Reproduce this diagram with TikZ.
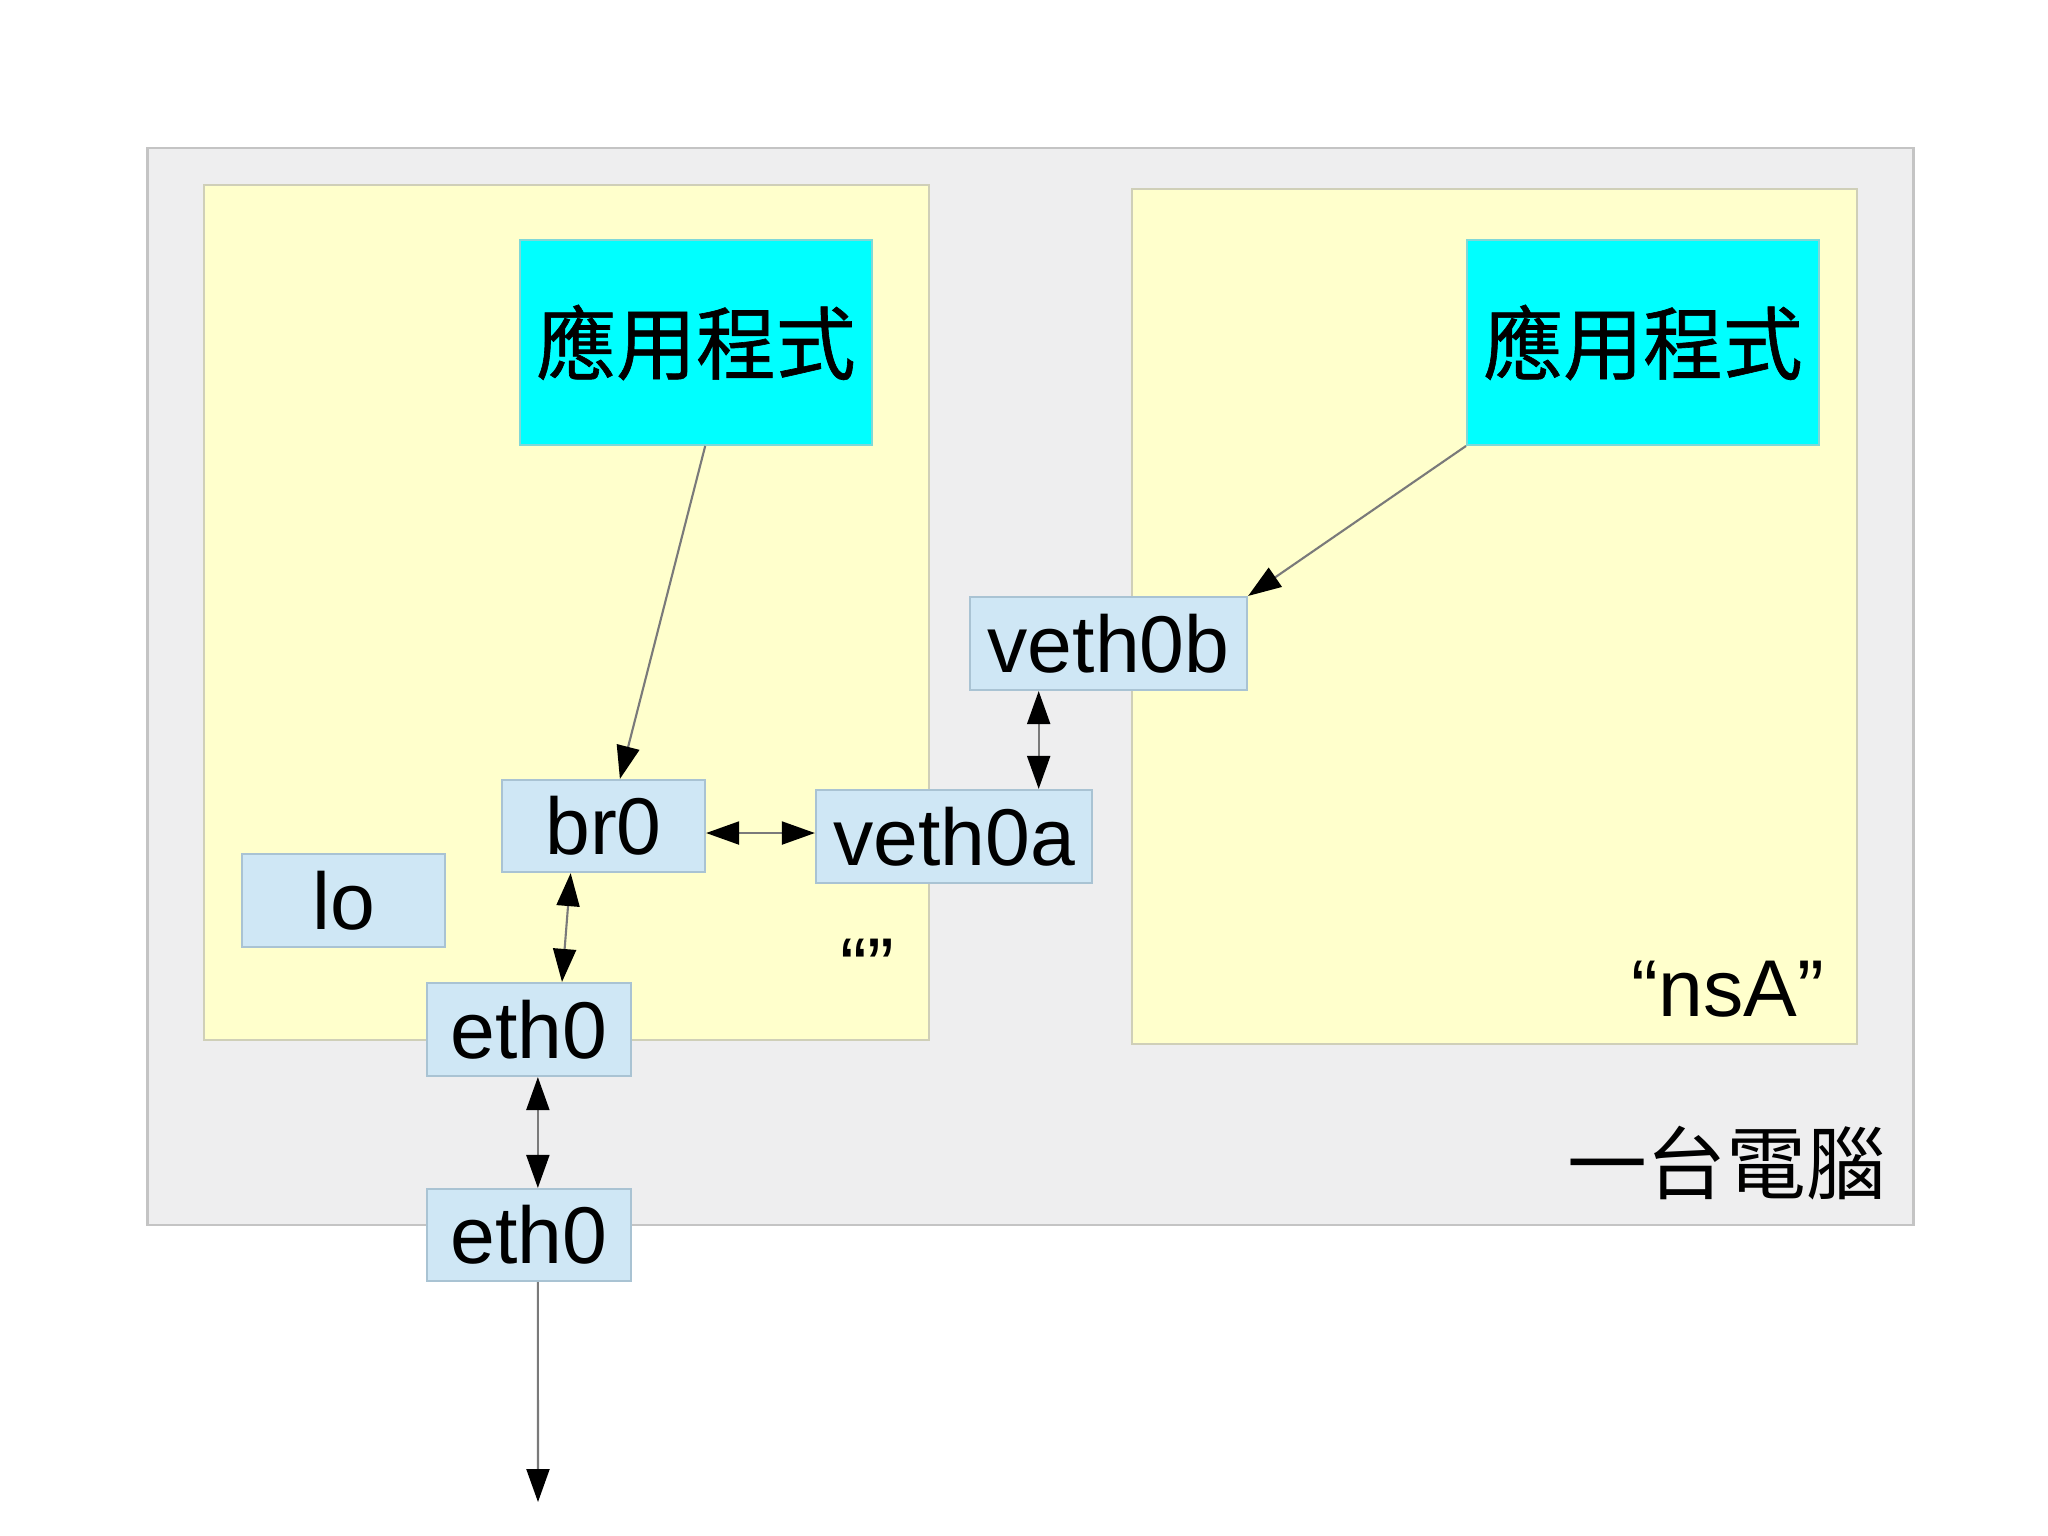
\documentclass[tikz,border=0pt]{standalone}
\usepackage{fontspec}
\setmainfont{Liberation Sans}
\newfontfamily\cjk{Noto Sans CJK TC}
\newfontfamily\cjkm[UprightFeatures={FakeBold=0.8}]{Noto Sans CJK TC}
\usetikzlibrary{arrows.meta,calc}
\definecolor{outerbg}{HTML}{EEEEEF}
\definecolor{outerln}{HTML}{C4C4C4}
\definecolor{yel}{HTML}{FFFFCC}
\definecolor{yelln}{HTML}{CFCFB8}
\definecolor{cyanbg}{HTML}{00FFFF}
\definecolor{cyanln}{HTML}{7FD8D8}
\definecolor{ifbg}{HTML}{CFE7F5}
\definecolor{ifln}{HTML}{A9C3D3}
\definecolor{conn}{HTML}{7A7A7A}
\tikzset{
  tip/.tip={Triangle[length=0.33cm, width=0.23cm, fill=black, color=black]},
  region/.style={draw=outerln, fill=outerbg, line width=0.6pt, inner sep=0pt},
  nsbox/.style={draw=yelln, fill=yel, line width=0.6pt, inner sep=0pt},
  appbox/.style={draw=cyanln, fill=cyanbg, line width=0.5pt, inner sep=0pt,
    font=\cjkm\fontsize{22.7pt}{27pt}\selectfont},
  ifbox/.style={draw=ifln, fill=ifbg, line width=0.6pt, inner sep=0pt,
    font=\fontsize{22.9pt}{27pt}\selectfont},
  lbl/.style={inner sep=0pt, font=\fontsize{22.9pt}{27pt}\selectfont},
  conn/.style={draw=conn, line width=0.6pt, arrows={-tip}},
  bconn/.style={draw=conn, line width=0.6pt, arrows={tip-tip}},
}
\begin{document}
\begin{tikzpicture}[x=0.01cm, y=-0.01cm]
\useasboundingbox[fill=white] (0,0) rectangle (2048,1535);

% containers
\node[region, minimum width=17.65cm, minimum height=10.77cm] (pc) at (1030.5,686.5) {};
\node[nsbox, minimum width=7.25cm, minimum height=8.55cm] (nsL) at (566.5,612.5) {};
\node[nsbox, minimum width=7.25cm, minimum height=8.55cm] (nsR) at (1494.5,616.5) {};

% applications
\node[appbox, minimum width=3.52cm, minimum height=2.05cm] (app1) at (696,342.5) {應用程式};
\node[appbox, minimum width=3.52cm, minimum height=2.05cm] (app2) at (1643,342.5) {應用程式};

% interfaces
\node[ifbox, minimum width=2.77cm, minimum height=0.93cm] (veth0b) at (1108.5,643.5) {veth0b};
\node[ifbox, minimum width=2.03cm, minimum height=0.92cm] (br0) at (603.5,826) {br0};
\node[ifbox, minimum width=2.76cm, minimum height=0.93cm] (veth0a) at (954,836.5) {veth0a};
\node[ifbox, minimum width=2.03cm, minimum height=0.93cm] (lo) at (343.5,900.5) {lo};
\node[ifbox, minimum width=2.04cm, minimum height=0.93cm] (eth0i) at (529,1029.5) {eth0};
\node[ifbox, minimum width=2.04cm, minimum height=0.92cm] (eth0o) at (529,1235) {eth0};

% labels
\node[lbl, anchor=base east] (qL) at (895,994) {“”};
\node[lbl, anchor=base east] (qR) at (1825,1016) {“nsA”};
\node[lbl, anchor=east, font=\cjk\fontsize{22.7pt}{27pt}\selectfont] (pcl) at (1887,1163) {一台電腦};

% connectors
\draw[conn] ($(app1.south west)!0.526!(app1.south east)$) -- ($(br0.north west)!0.58!(br0.north east)$);
\draw[conn] (app2.south west) -- (veth0b.north east);
\coordinate (vb) at ($(veth0b.south west)!0.25!(veth0b.south east)$);
\draw[bconn] (vb) -- (vb |- veth0a.north);
\draw[bconn] ([yshift=-0.07cm]br0.east) -- ([yshift=-0.07cm]br0.east -| veth0a.west);
\draw[bconn] ($(br0.south west)!0.34!(br0.south east)$) -- ($(eth0i.north west)!0.66!(eth0i.north east)$);
\coordinate (e1) at ($(eth0i.south west)!0.543!(eth0i.south east)$);
\draw[bconn] (e1) -- (e1 |- eth0o.north);
\coordinate (e2) at ($(eth0o.south west)!0.543!(eth0o.south east)$);
\coordinate (out) at (538,1502);
\draw[conn] (e2) -- (out);
\end{tikzpicture}
\end{document}
